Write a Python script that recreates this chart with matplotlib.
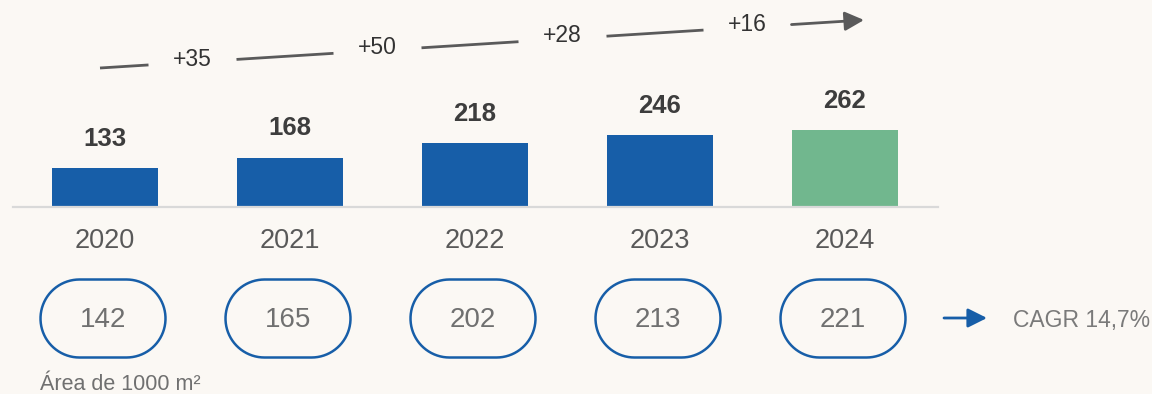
import matplotlib.pyplot as plt
import matplotlib.patches as mpatches
from matplotlib.path import Path
import numpy as np

# data
years = ['2020', '2021', '2022', '2023', '2024']
revenue = [133, 168, 218, 246, 262]
area = [142, 165, 202, 213, 221]
cagr_label = 'CAGR 14,7%'
area_label = 'Área de 1000 m²'

BG = '#fbf8f4'
BLUE = '#175ea8'
GREEN = '#71b78e'
GREY = '#5a5a5a'

plt.rcParams['font.family'] = ['Liberation Sans', 'DejaVu Sans']

W, H = 1152, 394
fig = plt.figure(figsize=(W / 100, H / 100), dpi=100, facecolor=BG)

# main axes: x = category index, y = value, baseline at pixel row 206
ax = fig.add_axes([0, 0, 1, 1])
ax.set_facecolor('none')
x = np.arange(len(years))
px_per_cat = 185
x0 = 105
ax.set_xlim(-x0 / px_per_cat, (W - x0) / px_per_cat)
val_per_px = 3.47
base = 206
ax.set_ylim(-(H - base) * val_per_px, base * val_per_px)
ax.axis('off')

# overlay axes in pixel units for the decorations
ov = fig.add_axes([0, 0, 1, 1])
ov.set_facecolor('none')
ov.set_xlim(0, W)
ov.set_ylim(H, 0)
ov.axis('off')


def cx(i):
    # category position -> overlay pixel x
    disp = ax.transData.transform((i, 0))
    return ov.transData.inverted().transform(disp)[0]


def pill(xc, yc, w, h):
    # stadium shape with true half-circle ends
    r = h / 2
    t = np.linspace(np.pi / 2, 3 * np.pi / 2, 40)
    left = np.column_stack([xc - w / 2 + r + r * np.cos(t), yc - r * np.sin(t)])
    t2 = np.linspace(-np.pi / 2, np.pi / 2, 40)
    right = np.column_stack([xc + w / 2 - r + r * np.cos(t2), yc - r * np.sin(t2)])
    verts = np.vstack([left, right, left[:1]])
    return mpatches.PathPatch(Path(verts, closed=True), fc='none', ec=BLUE, lw=1.8)


# baseline
ov.plot([13, 938], [207, 207], color='#d9d9d9', lw=1.6, zorder=0)

colors = [BLUE] * (len(years) - 1) + [GREEN]
ax.bar(x, revenue, width=0.573, color=colors, zorder=2)
for i, v in zip(x, revenue):
    ax.annotate(f'{v}', (i, v), xytext=(0, 21), textcoords='offset points',
                ha='center', va='center', fontsize=18.5, fontweight='bold',
                color='#3d3d3d')

# years + area pills
for i, (yr, a) in enumerate(zip(years, area)):
    c = cx(i)
    ov.text(c, 241, yr, ha='center', va='center', fontsize=19.5, color='#595959')
    ov.add_patch(pill(c - 2, 318.5, 125, 78))
    ov.text(c - 2, 320, str(a), ha='center', va='center', fontsize=20, color='#707070')

# growth line with gaps for the deltas
lx0, ly0, lx1, ly1 = 100, 68, 864, 20


def line_y(xp):
    return ly0 + (xp - lx0) * (ly1 - ly0) / (lx1 - lx0)


deltas = np.diff(revenue)
gaps = [cx(i + 0.5) - 5 for i in range(len(deltas))]
edges = [lx0]
for g in gaps:
    edges += [g - 44, g + 44]
edges.append(lx1)
for k in range(0, len(edges) - 2, 2):
    ov.plot([edges[k], edges[k + 1]], [line_y(edges[k]), line_y(edges[k + 1])],
            color=GREY, lw=2, solid_capstyle='butt')
ov.annotate('', xy=(lx1, ly1), xytext=(edges[-2], line_y(edges[-2])),
            arrowprops=dict(arrowstyle='-|>', color=GREY, lw=2,
                            mutation_scale=29, shrinkA=0, shrinkB=0))
for g, d in zip(gaps, deltas):
    ov.text(g, line_y(g) - 3, f'+{d}', ha='center', va='center',
            fontsize=16.5, color='#333333')

# CAGR
ov.annotate('', xy=(987, 318), xytext=(944, 318),
            arrowprops=dict(arrowstyle='-|>', color=BLUE, lw=2,
                            mutation_scale=29, shrinkA=0, shrinkB=0))
ov.text(1013, 320, cagr_label, ha='left', va='center', fontsize=16.5, color='#7a7a7a')

ov.text(40, 390, area_label, ha='left', va='baseline', fontsize=15.5, color='#707070')

fig.savefig('out.png', dpi=100, facecolor=BG)
